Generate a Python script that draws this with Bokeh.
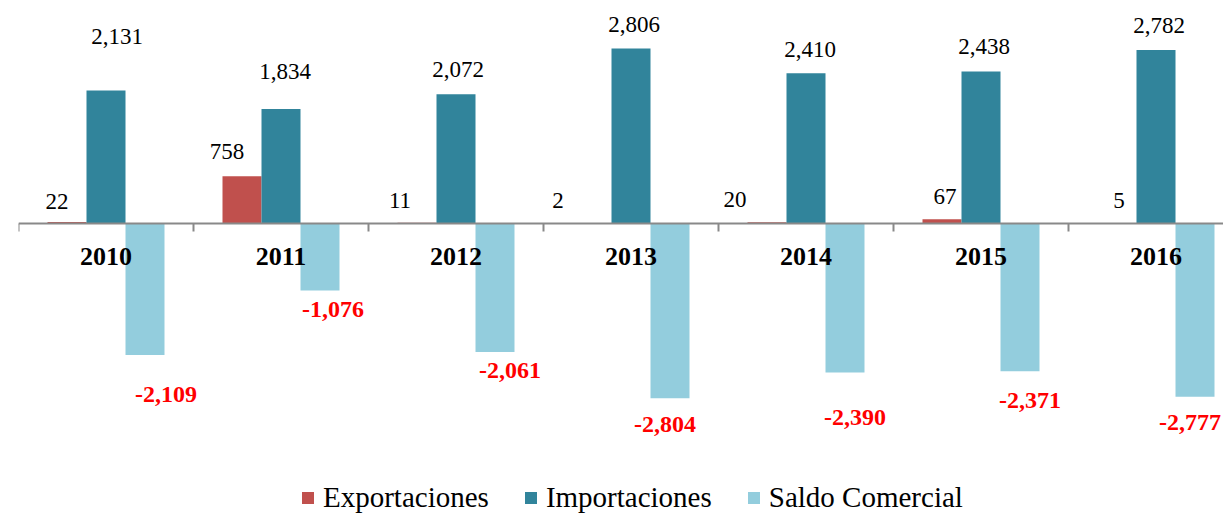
from bokeh.plotting import figure
from bokeh.models import Range1d, Span, Legend, LegendItem, ColumnDataSource
from bokeh.core.properties import value
from bokeh.embed import file_html
from bokeh.resources import INLINE

# ---------------- data ----------------
years = ["2010", "2011", "2012", "2013", "2014", "2015", "2016"]
exportaciones = [22, 758, 11, 2, 20, 67, 5]
importaciones = [2131, 1834, 2072, 2806, 2410, 2438, 2782]
saldo = [-2109, -1076, -2061, -2804, -2390, -2371, -2777]

# ---------------- label placement (screen px, layout only) ----------------
exp_dx = [-10, -15, -17, -34, -32, 3, 2]
exp_dy = [-21, -25, -22, -23, -23, -23, -23]
imp_dx = [11, 4, 2, 3, 4, 3, 3]
imp_dy = [-54, -38, -25, -24, -24, -25, -24]
sal_dx = [21, 13, 15, -5, 10, 10, -5]
sal_dy = [39, 19, 18, 26, 45, 29, 26]

# ---------------- styles ----------------
C_EXP = "#C0504D"
C_IMP = "#31849B"
C_SAL = "#93CDDD"
AXIS_C = "#898989"
FONT = "Liberation Serif"

W, H = 1223, 514
LEFT = 18
CAT_PX = 175.0
Y0, Y1 = -4666, 3575
BW = 39.0 / CAT_PX

n = len(years)
centers = [i + 0.5 for i in range(n)]

p = figure(width=W, height=H,
           x_range=Range1d(0, (W - LEFT) / CAT_PX),
           y_range=Range1d(Y0, Y1),
           x_axis_type=None, y_axis_type=None,
           toolbar_location=None, output_backend="svg",
           min_border_left=LEFT, min_border_right=0,
           min_border_top=0, min_border_bottom=0,
           outline_line_color=None)
p.xgrid.visible = False
p.ygrid.visible = False

src = ColumnDataSource(dict(
    xe=[c - BW for c in centers], xi=centers, xs=[c + BW for c in centers],
    exp=exportaciones, imp=importaciones, sal=saldo,
    exp_t=[f"{v:,}" for v in exportaciones],
    imp_t=[f"{v:,}" for v in importaciones],
    sal_t=[f"{v:,}" for v in saldo],
    exp_dx=exp_dx, exp_dy=exp_dy, imp_dx=imp_dx, imp_dy=imp_dy,
    sal_dx=sal_dx, sal_dy=sal_dy,
    xc=centers, zero=[0] * n, yr=years,
))

r_exp = p.vbar(x="xe", top="exp", bottom=0, width=BW, source=src,
               fill_color=C_EXP, line_color=None)
r_imp = p.vbar(x="xi", top="imp", bottom=0, width=BW, source=src,
               fill_color=C_IMP, line_color=None)
r_sal = p.vbar(x="xs", top="sal", bottom=0, width=BW, source=src,
               fill_color=C_SAL, line_color=None)

# axis line at zero and category boundary ticks
p.add_layout(Span(location=0, dimension="width", line_color=AXIS_C, line_width=2))
px_per_unit = H / (Y1 - Y0)
tick_len = 8 / px_per_unit
bounds = list(range(n + 1))
p.segment(x0=bounds, x1=bounds, y0=[0] * len(bounds), y1=[-tick_len] * len(bounds),
          line_color=AXIS_C, line_width=2)

# value labels
p.text(x="xe", y="exp", text="exp_t", x_offset="exp_dx", y_offset="exp_dy", source=src,
       text_font=value(FONT), text_font_size="23px", text_color="black",
       text_align="center", text_baseline="middle")
p.text(x="xi", y="imp", text="imp_t", x_offset="imp_dx", y_offset="imp_dy", source=src,
       text_font=value(FONT), text_font_size="23px", text_color="black",
       text_align="center", text_baseline="middle")
p.text(x="xs", y="sal", text="sal_t", x_offset="sal_dx", y_offset="sal_dy", source=src,
       text_font=value(FONT), text_font_size="24px", text_font_style="bold",
       text_color="#FF0000", text_align="center", text_baseline="middle")

# category labels
p.text(x="xc", y="zero", text="yr", y_offset=33, source=src,
       text_font=value(FONT), text_font_size="26px", text_font_style="bold",
       text_color="black", text_align="center", text_baseline="middle")

legend = Legend(items=[LegendItem(label="Exportaciones", renderers=[r_exp]),
                       LegendItem(label="Importaciones", renderers=[r_imp]),
                       LegendItem(label="Saldo Comercial", renderers=[r_sal])],
                orientation="horizontal", location=(282, 0),
                padding=0, margin=0, spacing=34,
                glyph_width=15, glyph_height=15, label_standoff=8,
                label_text_font=FONT, label_text_font_size="29px",
                label_text_color="black",
                border_line_color=None, background_fill_alpha=0)
p.add_layout(legend)

open("out.html", "w").write(file_html(p, INLINE))
